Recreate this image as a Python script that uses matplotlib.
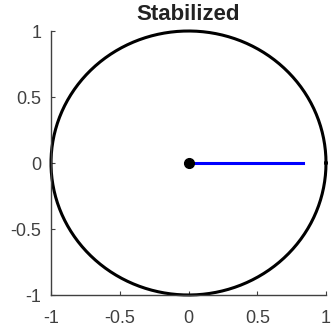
import numpy as np
import matplotlib
matplotlib.use("Agg")
import matplotlib.pyplot as plt

title = "Stabilized"
ticks = [-1, -0.5, 0, 0.5, 1]
tick_labels = ["-1", "-0.5", "0", "0.5", "1"]
radius = 1.0
pend_x = [0.0, 0.83]
pend_y = [0.0, 0.0]
pivot = (0.0, 0.0)

plt.rcParams['font.family'] = ['Liberation Sans', 'DejaVu Sans']
fig = plt.figure(figsize=(3.32, 3.28), dpi=100)
ax = fig.add_axes([51/332, 1-295/328, 275/332, 264/328])

th = np.linspace(0, 2*np.pi, 400)
ax.plot(radius*np.cos(th), radius*np.sin(th), color='black', lw=2.2, clip_on=False, zorder=2)
ax.plot(pend_x, pend_y, color='#0000ff', lw=2.2, zorder=3)
ax.plot([pivot[0]], [pivot[1]], 'o', color='black', ms=7, zorder=4)

ax.set_xlim(-1, 1)
ax.set_ylim(-1, 1)
ax.set_xticks(ticks)
ax.set_xticklabels(tick_labels)
ax.set_yticks(ticks)
ax.set_yticklabels(tick_labels)
for s in ['top', 'right']:
    ax.spines[s].set_visible(False)
gray = '#404040'
for s in ['left', 'bottom']:
    ax.spines[s].set_color(gray)
    ax.spines[s].set_linewidth(1.0)
ax.tick_params(direction='in', length=3, width=0.8, colors=gray, labelsize=13)
ax.tick_params(axis='x', pad=11)
ax.tick_params(axis='y', pad=7)
ax.set_title(title, fontsize=16, fontweight='bold', color='#222222', pad=8)
fig.savefig("out.png", dpi=100)
